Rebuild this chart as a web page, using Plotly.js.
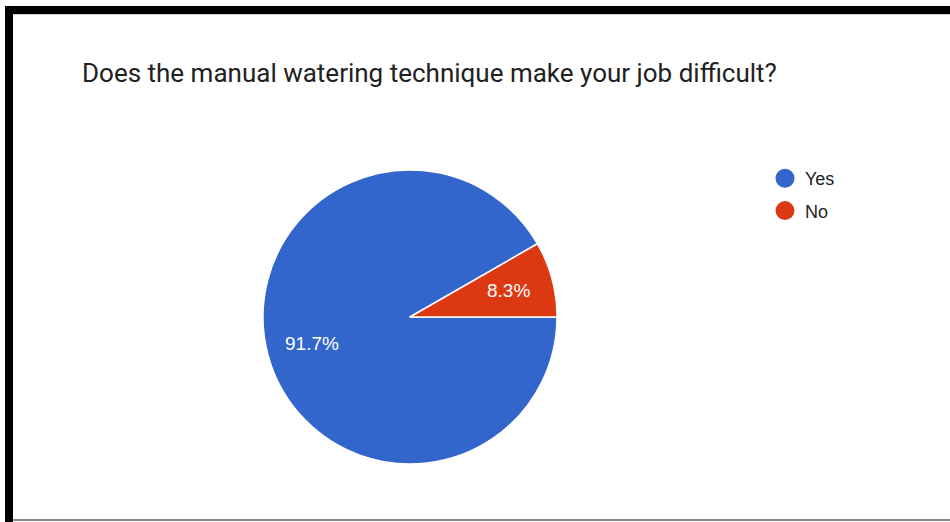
<!DOCTYPE html>
<html>
<head>
<meta charset="utf-8">
<script src="https://cdn.plot.ly/plotly-3.0.1.min.js"></script>
<style>
  html, body { margin: 0; padding: 0; background: #fff; }
  #wrap { position: relative; width: 950px; height: 522px; overflow: hidden; }
  #chart { position: absolute; left: 0; top: 0; width: 950px; height: 522px; }
  .bar { position: absolute; background: #000; }
</style>
</head>
<body>
<div id="wrap">
  <div id="chart"></div>
  <div class="bar" style="left:5px; top:6px; width:945px; height:8px;"></div>
  <div class="bar" style="left:5px; top:6px; width:8px; height:516px;"></div>
  <div style="position:absolute; left:13px; top:14px; width:937px; height:1px; background:#d0d0d0;"></div>
  <div style="position:absolute; left:13px; top:519px; width:937px; height:2px; background:#8a8a8a;"></div>
</div>
<script>
const titleText = "Does the manual watering technique make your job difficult?";
const categories = ["Yes", "No"];
const values = [91.7, 8.3];
const colors = ["#3366cc", "#dc3912"];

const W = 950, H = 522;
const cx = 410, cy = 317, R = 147;
const startAngle = 90;       // degrees clockwise from 12 o'clock
const labelRadius = 0.69;    // fraction of radius for in-slice labels

const total = values.reduce((a, b) => a + b, 0);

const traces = [{
  type: "pie",
  labels: categories,
  values: values,
  sort: false,
  direction: "clockwise",
  rotation: startAngle,
  marker: { colors: colors, line: { color: "#ffffff", width: 1.5 } },
  textinfo: "none",
  hoverinfo: "label+percent",
  showlegend: false,
  domain: { x: [(cx - R) / W, (cx + R) / W], y: [1 - (cy + R) / H, 1 - (cy - R) / H] }
}];

categories.forEach((c, i) => {
  traces.push({
    type: "scatter",
    mode: "markers",
    x: [null], y: [null],
    name: c,
    legendgroup: "g" + i,
    marker: { color: colors[i], size: 16, symbol: "circle", line: { color: colors[i], width: 3 } },
    showlegend: true,
    hoverinfo: "skip"
  });
});

// slice labels placed at each slice's mid-angle
const annotations = [];
let cum = 0;
values.forEach((v, i) => {
  const mid = (startAngle + (cum + v / 2) / total * 360) * Math.PI / 180;
  cum += v;
  const px = cx + labelRadius * R * Math.sin(mid);
  const py = cy - labelRadius * R * Math.cos(mid);
  annotations.push({
    xref: "paper", yref: "paper",
    x: px / W, y: 1 - py / H,
    xanchor: "center", yanchor: "middle",
    showarrow: false,
    text: (v / total * 100).toFixed(1) + "%",
    font: { family: "Arial, 'Liberation Sans', sans-serif", size: 19, color: "#ffffff" }
  });
});

const layout = {
  width: W, height: H,
  margin: { l: 0, r: 0, t: 0, b: 0 },
  paper_bgcolor: "#ffffff",
  plot_bgcolor: "rgba(0,0,0,0)",
  title: {
    text: titleText,
    font: { family: "Roboto, Arial, sans-serif", size: 26, color: "#212121" },
    x: 82 / W, xanchor: "left", xref: "paper",
    y: 1 - 73 / H, yanchor: "middle", yref: "paper"
  },
  xaxis: { visible: false, range: [0, 1], fixedrange: true },
  yaxis: { visible: false, range: [0, 1], fixedrange: true },
  annotations: annotations,
  showlegend: true,
  legend: {
    x: 765 / W, xanchor: "left",
    y: 1 - 160 / H, yanchor: "top",
    traceorder: "grouped",
    tracegroupgap: 6,
    font: { family: "Arial, 'Liberation Sans', sans-serif", size: 18, color: "#222222" },
    bgcolor: "rgba(0,0,0,0)",
    itemwidth: 30
  }
};

Plotly.newPlot("chart", traces, layout, { displayModeBar: false, staticPlot: true });
</script>
</body>
</html>
